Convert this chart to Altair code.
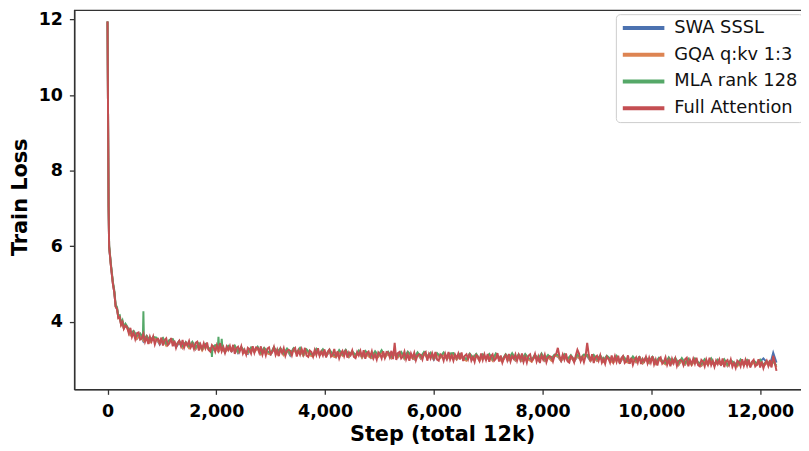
import altair as alt
import pandas as pd

series_names = ["SWA SSSL", "GQA q:kv 1:3", "MLA rank 128", "Full Attention"]
series_colors = ["#4C72B0", "#DD8452", "#55A868", "#C44E52"]
x_ticks = [0, 2000, 4000, 6000, 8000, 10000, 12000]
y_ticks = [4, 6, 8, 10, 12]

early_steps = [0, 20, 30, 45, 60, 80, 100, 125, 150, 175, 200, 225, 250, 275, 300, 330]
steps_60 = early_steps + list(range(360, 12301, 60))
steps_30 = early_steps + list(range(360, 12301, 30))

swa_loss = [
    11.95, 7.03, 5.99, 5.75, 5.53, 5.25, 5.01, 4.77, 4.41, 4.33, 4.11, 4.11, 3.93, 3.98, 3.83, 3.89,
    3.86, 3.66, 3.74, 3.55, 3.65, 3.48, 3.61, 3.47, 3.58, 3.55,
    3.40, 3.55, 3.39, 3.50, 3.52, 3.33, 3.45, 3.31, 3.44, 3.32,
    3.45, 3.28, 3.41, 3.26, 3.39, 3.27, 3.22, 3.34, 3.21, 3.35,
    3.19, 3.34, 3.22, 3.33, 3.17, 3.31, 3.20, 3.15, 3.30, 3.20,
    3.32, 3.16, 3.29, 3.18, 3.13, 3.29, 3.16, 3.28, 3.14, 3.26,
    3.11, 3.27, 3.17, 3.29, 3.10, 3.24, 3.13, 3.10, 3.26, 3.12,
    3.25, 3.09, 3.21, 3.11, 3.06, 3.22, 3.12, 3.24, 3.07, 3.19,
    3.08, 3.21, 3.05, 3.18, 3.10, 3.04, 3.19, 3.09, 3.22, 3.05,
    3.18, 3.04, 3.16, 3.06, 3.17, 3.02, 3.16, 3.08, 3.01, 3.16,
    3.03, 3.17, 3.05, 3.13, 2.99, 3.14, 3.06, 3.16, 3.01, 3.13,
    3.14, 3.00, 3.12, 3.03, 2.99, 3.13, 3.01, 3.10, 2.98, 3.11,
    3.00, 3.12, 2.99, 3.13, 3.02, 2.96, 3.11, 2.99, 3.12, 2.98,
    3.11, 2.97, 3.12, 3.02, 2.96, 3.10, 2.98, 3.11, 2.97, 3.09,
    2.99, 3.10, 3.08, 2.96, 3.11, 2.98, 3.07, 2.95, 3.08, 3.00,
    3.10, 3.09, 2.96, 3.09, 2.97, 3.08, 2.96, 3.07, 2.99, 2.93,
    3.07, 2.92, 3.04, 2.95, 2.91, 3.05, 2.93, 3.02, 2.90, 3.03,
    2.91, 3.04, 2.89, 3.02, 2.93, 2.89, 3.03, 2.90, 2.99, 2.86,
    3.01, 2.87, 2.99, 2.87, 3.00, 2.89, 2.84, 2.96, 2.86, 3.00,
    2.84, 2.97, 2.86, 2.96, 2.83, 2.95, 2.88, 2.84, 2.97, 2.85,
    2.96, 2.83, 2.94, 2.86, 2.95, 3.03, 2.93, 2.85, 3.18, 2.92,
]

gqa_loss = [
    11.95, 7.04, 5.98, 5.77, 5.52, 5.27, 5.00, 4.79, 4.40, 4.35, 4.10, 4.13, 3.92, 4.00, 3.82, 3.91,
    3.84, 3.64, 3.72, 3.55, 3.67, 3.50, 3.61, 3.45, 3.56, 3.55,
    3.42, 3.55, 3.37, 3.48, 3.52, 3.35, 3.47, 3.31, 3.42, 3.30,
    3.43, 3.28, 3.41, 3.24, 3.37, 3.27, 3.24, 3.36, 3.21, 3.33,
    3.19, 3.32, 3.22, 3.35, 3.19, 3.31, 3.18, 3.17, 3.30, 3.20,
    3.30, 3.14, 3.29, 3.16, 3.13, 3.31, 3.14, 3.28, 3.12, 3.24,
    3.13, 3.27, 3.15, 3.27, 3.10, 3.24, 3.11, 3.08, 3.24, 3.12,
    3.23, 3.09, 3.23, 3.09, 3.06, 3.20, 3.10, 3.22, 3.07, 3.19,
    3.06, 3.21, 3.05, 3.20, 3.08, 3.04, 3.17, 3.07, 3.20, 3.05,
    3.16, 3.04, 3.14, 3.06, 3.15, 3.02, 3.18, 3.06, 3.01, 3.14,
    3.03, 3.15, 3.05, 3.15, 3.01, 3.14, 3.04, 3.14, 3.01, 3.11,
    3.12, 3.00, 3.12, 3.01, 2.97, 3.11, 3.01, 3.12, 2.96, 3.11,
    3.00, 3.10, 2.97, 3.11, 3.02, 2.94, 3.11, 2.99, 3.12, 2.98,
    3.09, 2.97, 3.10, 3.00, 2.94, 3.10, 2.98, 3.11, 2.97, 3.07,
    2.97, 3.10, 3.09, 2.96, 3.09, 2.98, 3.07, 2.95, 3.10, 2.98,
    3.08, 3.12, 2.96, 3.07, 2.97, 3.06, 2.94, 3.05, 2.99, 2.91,
    3.05, 2.92, 3.06, 2.93, 2.91, 3.03, 2.93, 3.02, 2.90, 3.01,
    2.91, 3.02, 2.89, 3.00, 2.93, 2.87, 3.01, 2.90, 2.99, 2.86,
    2.99, 2.87, 2.97, 2.85, 2.98, 2.89, 2.84, 2.96, 2.86, 2.98,
    2.84, 2.95, 2.86, 2.96, 2.83, 2.93, 2.88, 2.82, 2.95, 2.85,
    2.94, 2.83, 2.92, 2.86, 2.95, 2.82, 2.91, 2.85, 2.96, 2.80,
]

mla_loss = [
    11.95, 7.08, 6.03, 5.80, 5.57, 5.31, 5.05, 4.83, 4.45, 4.39, 4.15, 4.17, 3.97, 4.04, 3.87, 3.95,
    3.88, 3.70, 3.76, 3.62, 3.69, 4.28, 3.63, 3.50, 3.60, 3.58,
    3.46, 3.57, 3.42, 3.52, 3.54, 3.38, 3.49, 3.36, 3.46, 3.35,
    3.47, 3.32, 3.43, 3.28, 3.41, 3.30, 3.07, 3.38, 3.60, 3.55,
    3.23, 3.36, 3.26, 3.37, 3.21, 3.33, 3.22, 3.20, 3.32, 3.24,
    3.34, 3.18, 3.31, 3.22, 3.17, 3.33, 3.20, 3.30, 3.16, 3.29,
    3.15, 3.30, 3.19, 3.31, 3.14, 3.27, 3.17, 3.12, 3.28, 3.16,
    3.27, 3.13, 3.26, 3.15, 3.10, 3.25, 3.14, 3.26, 3.11, 3.22,
    3.12, 3.24, 3.09, 3.23, 3.14, 3.08, 3.22, 3.11, 3.25, 3.09,
    3.21, 3.08, 3.19, 3.10, 3.20, 3.06, 3.21, 3.12, 3.05, 3.19,
    3.07, 3.20, 3.09, 3.18, 3.03, 3.17, 3.08, 3.19, 3.05, 3.16,
    3.17, 3.04, 3.15, 3.07, 3.01, 3.16, 3.05, 3.15, 3.02, 3.14,
    3.04, 3.15, 3.01, 3.16, 3.06, 3.00, 3.14, 3.03, 3.17, 3.02,
    3.14, 3.01, 3.15, 3.04, 3.00, 3.13, 3.02, 3.16, 3.01, 3.12,
    3.03, 3.13, 3.12, 3.00, 3.14, 3.02, 3.12, 2.99, 3.13, 3.04,
    3.13, 3.12, 3.00, 3.12, 3.01, 3.11, 2.98, 3.10, 3.03, 2.97,
    3.10, 2.96, 3.09, 2.99, 2.95, 3.08, 2.97, 3.07, 2.94, 3.06,
    2.95, 3.07, 2.93, 3.05, 2.97, 2.91, 3.06, 2.94, 3.04, 2.90,
    3.04, 2.91, 3.02, 2.89, 3.03, 2.93, 2.88, 3.01, 2.90, 3.03,
    2.88, 3.00, 2.90, 3.01, 2.87, 2.98, 2.92, 2.86, 3.00, 2.89,
    2.99, 2.87, 2.97, 2.90, 3.00, 2.86, 2.96, 2.89, 2.95, 2.84,
]
# extra MLA log points next to its spikes
mla_extra_steps = [650, 670, 1910, 1930, 2030, 2050, 2090, 2110]
mla_extra_loss = [3.58, 3.56, 3.30, 3.32, 3.36, 3.40, 3.37, 3.36]

full_loss = [
    11.95, 7.03, 5.98, 5.76, 5.52, 5.26, 5.00, 4.78, 4.40, 4.34, 4.10, 4.12, 3.92, 3.99, 3.82, 3.90,
    3.86, 3.70, 3.84, 3.60, 3.71, 3.54, 3.70, 3.72, 3.53, 3.56, 3.68, 3.47, 3.59, 3.41, 3.60, 3.48, 3.61, 3.40, 3.53, 3.55,
    3.43, 3.58, 3.37, 3.51, 3.56, 3.38, 3.43, 3.57, 3.35, 3.50, 3.31, 3.44, 3.50, 3.36, 3.52, 3.32, 3.45, 3.38, 3.49, 3.32,
    3.41, 3.28, 3.44, 3.47, 3.24, 3.40, 3.29, 3.43, 3.30, 3.45, 3.25, 3.21, 3.38, 3.33, 3.21, 3.38, 3.25, 3.43, 3.22, 3.33,
    3.18, 3.34, 3.25, 3.36, 3.20, 3.39, 3.15, 3.30, 3.34, 3.21, 3.35, 3.16, 3.26, 3.13, 3.31, 3.27, 3.16, 3.35, 3.18, 3.32,
    3.31, 3.18, 3.35, 3.13, 3.26, 3.11, 3.29, 3.32, 3.15, 3.20, 3.33, 3.13, 3.26, 3.09, 3.28, 3.17, 3.30, 3.10, 3.23, 3.26,
    3.23, 3.11, 3.27, 3.31, 3.08, 3.24, 3.13, 3.28, 3.15, 3.31, 3.10, 3.07, 3.24, 3.20, 3.08, 3.25, 3.12, 3.30, 3.10, 3.21,
    3.11, 3.27, 3.06, 3.21, 3.26, 3.08, 3.13, 3.28, 3.06, 3.22, 3.03, 3.16, 3.23, 3.09, 3.26, 3.05, 3.19, 3.12, 3.24, 3.07,
    3.04, 3.20, 3.11, 3.23, 3.07, 3.25, 3.02, 3.17, 3.21, 3.08, 3.22, 3.03, 3.13, 3.00, 3.19, 3.14, 3.03, 3.22, 3.05, 3.20,
    3.19, 3.06, 3.23, 3.01, 3.44, 2.99, 3.17, 3.20, 3.03, 3.08, 3.21, 3.01, 3.14, 2.97, 3.16, 3.05, 3.18, 2.98, 3.11, 3.14,
    3.12, 3.00, 3.16, 3.20, 2.97, 3.14, 3.03, 3.17, 3.04, 3.20, 3.00, 2.97, 3.14, 3.10, 2.97, 3.15, 3.02, 3.20, 3.00, 3.11,
    2.97, 3.13, 3.04, 3.16, 3.00, 3.19, 2.96, 3.10, 3.14, 3.01, 3.16, 2.97, 3.07, 2.94, 3.12, 3.08, 2.97, 3.16, 2.99, 3.14,
    2.99, 3.15, 2.94, 3.09, 3.14, 2.97, 3.02, 3.17, 2.95, 3.11, 2.92, 3.05, 3.12, 2.98, 3.15, 2.95, 3.09, 3.02, 3.14, 2.97,
    3.12, 2.99, 3.16, 2.94, 3.07, 2.92, 3.10, 3.14, 2.97, 3.02, 3.15, 2.95, 3.08, 2.91, 3.11, 3.00, 3.13, 2.93, 3.06, 3.09,
    3.07, 2.95, 3.11, 3.15, 3.31, 3.09, 2.98, 3.13, 3.00, 3.16, 2.95, 2.92, 3.09, 3.05, 2.93, 3.11, 3.26, 3.16, 2.96, 3.07,
    2.93, 3.09, 3.44, 3.12, 2.96, 3.14, 2.91, 3.06, 3.10, 2.97, 3.11, 2.92, 3.02, 2.89, 3.08, 3.03, 2.92, 3.11, 2.94, 3.09,
    2.94, 3.10, 2.89, 3.04, 3.09, 2.91, 2.96, 3.11, 2.89, 3.05, 2.86, 2.99, 3.06, 2.92, 3.09, 2.88, 3.02, 2.95, 3.07, 2.90,
    3.05, 2.92, 3.09, 2.87, 3.00, 2.84, 3.02, 3.06, 2.89, 2.94, 3.06, 2.86, 2.99, 2.82, 3.02, 2.90, 3.03, 2.83, 2.96, 2.99,
    2.97, 2.85, 3.01, 3.05, 2.82, 2.99, 2.88, 3.02, 2.89, 3.05, 2.85, 2.82, 2.99, 2.95, 2.82, 3.00, 2.87, 3.05, 2.85, 2.96,
    2.81, 2.97, 2.88, 3.00, 2.84, 3.03, 2.80, 2.95, 2.99, 2.86, 3.00, 2.81, 2.91, 2.78, 2.97, 2.93, 2.82, 3.01, 2.84, 2.99,
    2.84, 3.00, 2.79, 2.94, 2.99, 2.82, 2.87, 3.01, 2.79, 2.95, 2.77, 2.90, 2.97, 2.83, 2.99, 2.79, 3.10, 2.92, 2.70,
]

rows = []
for name, xs, vals in zip(
    series_names,
    [steps_60, steps_60, steps_60 + mla_extra_steps, steps_30],
    [swa_loss, gqa_loss, mla_loss + mla_extra_loss, full_loss],
):
    for s, v in zip(xs, vals):
        rows.append({"step": s, "loss": v, "series": name})
df = pd.DataFrame(rows).sort_values(["series", "step"], kind="stable")

FONT = "DejaVu Sans"

x_enc = alt.X(
    "step:Q",
    scale=alt.Scale(domain=[-610, 12915], nice=False, zero=False),
    axis=alt.Axis(
        values=x_ticks, format=",d", title="Step (total 12k)",
        titleX=371.5, titleY=46, titleBaseline="middle", titleAlign="center",
        labelPadding=8,
    ),
)
y_enc = alt.Y(
    "loss:Q",
    scale=alt.Scale(domain=[2.21, 12.249], nice=False, zero=False),
    axis=alt.Axis(
        values=y_ticks, title="Train Loss",
        titleX=-54.6, titleY=188.5, titleBaseline="middle", titleAlign="center",
        titleAngle=270, labelPadding=7,
    ),
)
color_enc = alt.Color(
    "series:N",
    scale=alt.Scale(domain=series_names, range=series_colors),
    legend=alt.Legend(
        title=None, orient="none", legendX=547, legendY=4,
        symbolType="M-1,0H5", symbolSize=196, symbolStrokeWidth=4,
        labelOffset=36, rowPadding=9, padding=5,
        strokeColor="#cccccc", fillColor="rgba(255,255,255,0.85)", cornerRadius=4,
        labelFont=FONT, labelFontSize=18, labelColor="#111111",
    ),
)

base = alt.Chart(df)
layers = []
for name in series_names:
    layers.append(
        base.transform_filter(alt.datum.series == name)
        .mark_line(strokeWidth=2.0, clip=True)
        .encode(x=x_enc, y=y_enc, color=color_enc)
    )

chart = alt.layer(*layers).properties(
    width=743, height=383,
    autosize=alt.AutoSizeParams(type="none"),
    padding={"left": 67, "top": 0, "right": -9, "bottom": 60},
).configure_view(
    stroke="#333333", strokeWidth=1.3,
).configure_axis(
    grid=False, domainColor="#333333", domainWidth=1.3,
    tickColor="#333333", tickWidth=1.3, tickSize=5,
    labelFont=FONT, labelFontSize=17.6, labelFontWeight="bold", labelColor="#000000",
    titleFont=FONT, titleFontSize=21, titleFontWeight="bold", titleColor="#000000",
)

chart.save("out.html", embed_options={"renderer": "svg", "actions": False})
